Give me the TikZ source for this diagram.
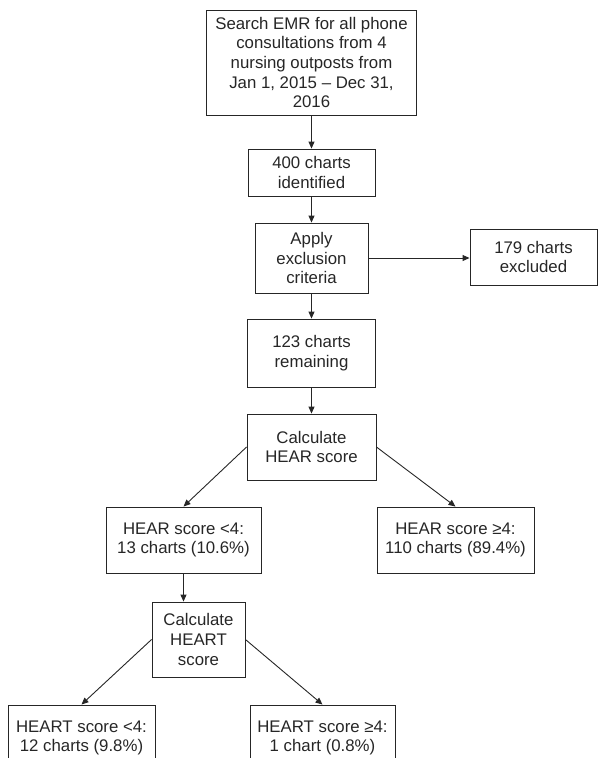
\documentclass[tikz,border=0pt]{standalone}
\usepackage{fontspec}
\setmainfont{Liberation Sans}
\usetikzlibrary{arrows.meta}
\begin{document}
\begin{tikzpicture}[x=1pt,y=-1pt,
  box/.style={draw=black!85, line width=0.9pt, inner sep=0pt, align=center,
    font=\fontsize{16.8}{19.7}\selectfont, text=black!85},
  arr/.style={draw=black!85, line width=0.9pt, -{Triangle[length=7pt,width=6pt]}}]
\useasboundingbox (0,0) rectangle (599,758);
\node[box, minimum width=210pt, minimum height=105pt] (s) at (311.5,62.5)
  {Search EMR for all phone\\consultations from 4\\nursing outposts from\\Jan 1, 2015 – Dec 31,\\2016};
\node[box, minimum width=127pt, minimum height=47pt] (n400) at (311.5,172.5) {400 charts\\identified};
\node[box, minimum width=113pt, minimum height=70pt] (ex) at (311.5,258) {Apply\\exclusion\\criteria};
\node[box, minimum width=127pt, minimum height=56pt] (exd) at (533.5,257) {179 charts\\excluded};
\node[box, minimum width=128pt, minimum height=68pt] (rem) at (311.5,353) {123 charts\\remaining};
\node[box, minimum width=129pt, minimum height=66pt] (c1) at (311.5,447) {Calculate\\HEAR score};
\node[box, minimum width=155pt, minimum height=66pt] (h4) at (183.5,540) {HEAR score <4:\\13 charts (10.6\%)};
\node[box, minimum width=157pt, minimum height=66pt] (h5) at (455.5,540) {HEAR score ≥4:\\110 charts (89.4\%)};
\node[box, minimum width=93pt, minimum height=75pt] (c2) at (198.5,639.5) {Calculate\\HEART\\score};
\node[box, minimum width=147pt, minimum height=66pt] (t4) at (81.5,738) {HEART score <4:\\12 charts (9.8\%)};
\node[box, minimum width=145pt, minimum height=66pt] (t5) at (322.5,738) {HEART score ≥4:\\1 chart (0.8\%)};
\draw[arr] (s) -- (n400);
\draw[arr] (n400) -- (ex);
\draw[arr] (ex.east) -- (ex.east -| exd.west);
\draw[arr] (ex) -- (rem);
\draw[arr] (rem) -- (c1);
\draw[arr] (c1.west) -- (h4.north);
\draw[arr] (c1.east) -- (h5.north);
\draw[arr] (h4.south) -- (h4.south |- c2.north);
\draw[arr] (c2.west) -- (t4.north);
\draw[arr] (c2.east) -- (t5.north);
\end{tikzpicture}
\end{document}
